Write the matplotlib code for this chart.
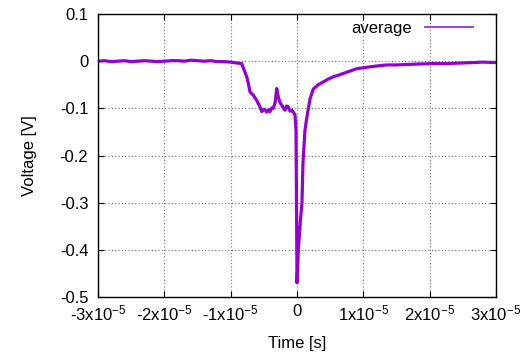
import matplotlib
matplotlib.use("Agg")
import matplotlib.pyplot as plt
import numpy as np

plt.rcParams['font.family'] = ['Liberation Sans', 'DejaVu Sans']
plt.rcParams['mathtext.fontset'] = 'custom'
plt.rcParams['mathtext.rm'] = 'Liberation Sans'
plt.rcParams['mathtext.it'] = 'Liberation Sans:italic'
plt.rcParams['mathtext.bf'] = 'Liberation Sans:bold'
plt.rcParams['axes.unicode_minus'] = False

# time in microseconds, voltage in volts
time_us = [-30.0, -29.0, -28.0, -27.0, -26.0, -25.0, -24.0, -23.0, -22.0, -21.0,
           -20.0, -19.0, -18.0, -17.0, -16.0, -15.0, -14.0, -13.0, -12.0, -11.0,
           -10.0, -9.5, -9.0, -8.34, -7.58, -7.34, -7.09, -6.59, -6.08, -5.58,
           -5.32, -4.9, -4.57, -4.3, -4.07, -3.8, -3.57, -3.3, -3.06, -2.82,
           -2.55, -2.31, -2.05, -1.81, -1.55, -1.31, -1.05, -0.80, -0.55, -0.30,
           -0.15, -0.05, 0.0, 0.1, 0.2, 0.5, 0.75, 0.9, 1.2, 1.5,
           1.96, 2.46, 3.2, 3.96, 4.7, 5.47, 6.2, 6.98, 8.0, 9.0,
           10.0, 11.0, 12.2, 13.5, 15.0, 16.5, 18.5, 20.5, 22.5, 24.6,
           26.5, 28.0, 30.0]
voltage = [0.000, 0.001, -0.001, 0.000, 0.001, -0.001, 0.000, 0.001, 0.000, -0.001,
           0.000, 0.001, 0.001, 0.000, 0.002, 0.001, 0.000, 0.001, -0.001, -0.001,
           -0.002, -0.003, -0.004, -0.005, -0.033, -0.047, -0.065, -0.072, -0.083, -0.097,
           -0.107, -0.102, -0.108, -0.103, -0.107, -0.099, -0.100, -0.088, -0.058, -0.076,
           -0.088, -0.093, -0.099, -0.104, -0.095, -0.097, -0.106, -0.104, -0.108, -0.114,
           -0.146, -0.350, -0.470, -0.440, -0.400, -0.340, -0.300, -0.216, -0.146, -0.118,
           -0.080, -0.059, -0.050, -0.044, -0.038, -0.033, -0.030, -0.026, -0.021, -0.016,
           -0.014, -0.012, -0.010, -0.008, -0.008, -0.007, -0.006, -0.005, -0.005, -0.004,
           -0.003, -0.002, -0.003]

xticks = [-3e-5, -2e-5, -1e-5, 0, 1e-5, 2e-5, 3e-5]
xticklabels = ['-3x10$^{-5}$', '-2x10$^{-5}$', '-1x10$^{-5}$', '0',
               '1x10$^{-5}$', '2x10$^{-5}$', '3x10$^{-5}$']
yticks = [0.1, 0.0, -0.1, -0.2, -0.3, -0.4, -0.5]
yticklabels = ['0.1', '0', '-0.1', '-0.2', '-0.3', '-0.4', '-0.5']

t = np.array(time_us) * 1e-6
v = np.array(voltage)

fig = plt.figure(figsize=(5.30, 3.58), dpi=100)
ax = fig.add_axes([98/530, 61/358, 398/530, 283/358])

ax.plot(t, v, color='#9400d3', lw=2.3, label='average', solid_joinstyle='round')

ax.set_xlim(-3e-5, 3e-5)
ax.set_ylim(-0.5, 0.1)
ax.set_xticks(xticks)
ax.set_xticklabels(xticklabels)
ax.set_yticks(yticks)
ax.set_yticklabels(yticklabels)

ax.grid(True, color='0.45', linestyle=(0, (1, 2)), lw=0.8)
ax.tick_params(direction='in', length=4, width=0.8, top=True, right=True,
               labelsize=12, colors='black')
ax.tick_params(axis='y', pad=7)
ax.tick_params(axis='x', pad=5)
for s in ax.spines.values():
    s.set_linewidth(1.0)

ax.set_xlabel('Time [s]', fontsize=12, labelpad=9)
ax.set_ylabel('Voltage [V]', fontsize=12, labelpad=16)

leg = ax.legend(loc='upper right', frameon=False, markerfirst=False,
                fontsize=12, handlelength=2.9, handletextpad=0.8,
                borderaxespad=0.0, bbox_to_anchor=(0.96, 1.0))
for line in leg.get_lines():
    line.set_linewidth(1.4)
    line.set_color('#a040e0')

fig.savefig('out.png', dpi=100)
